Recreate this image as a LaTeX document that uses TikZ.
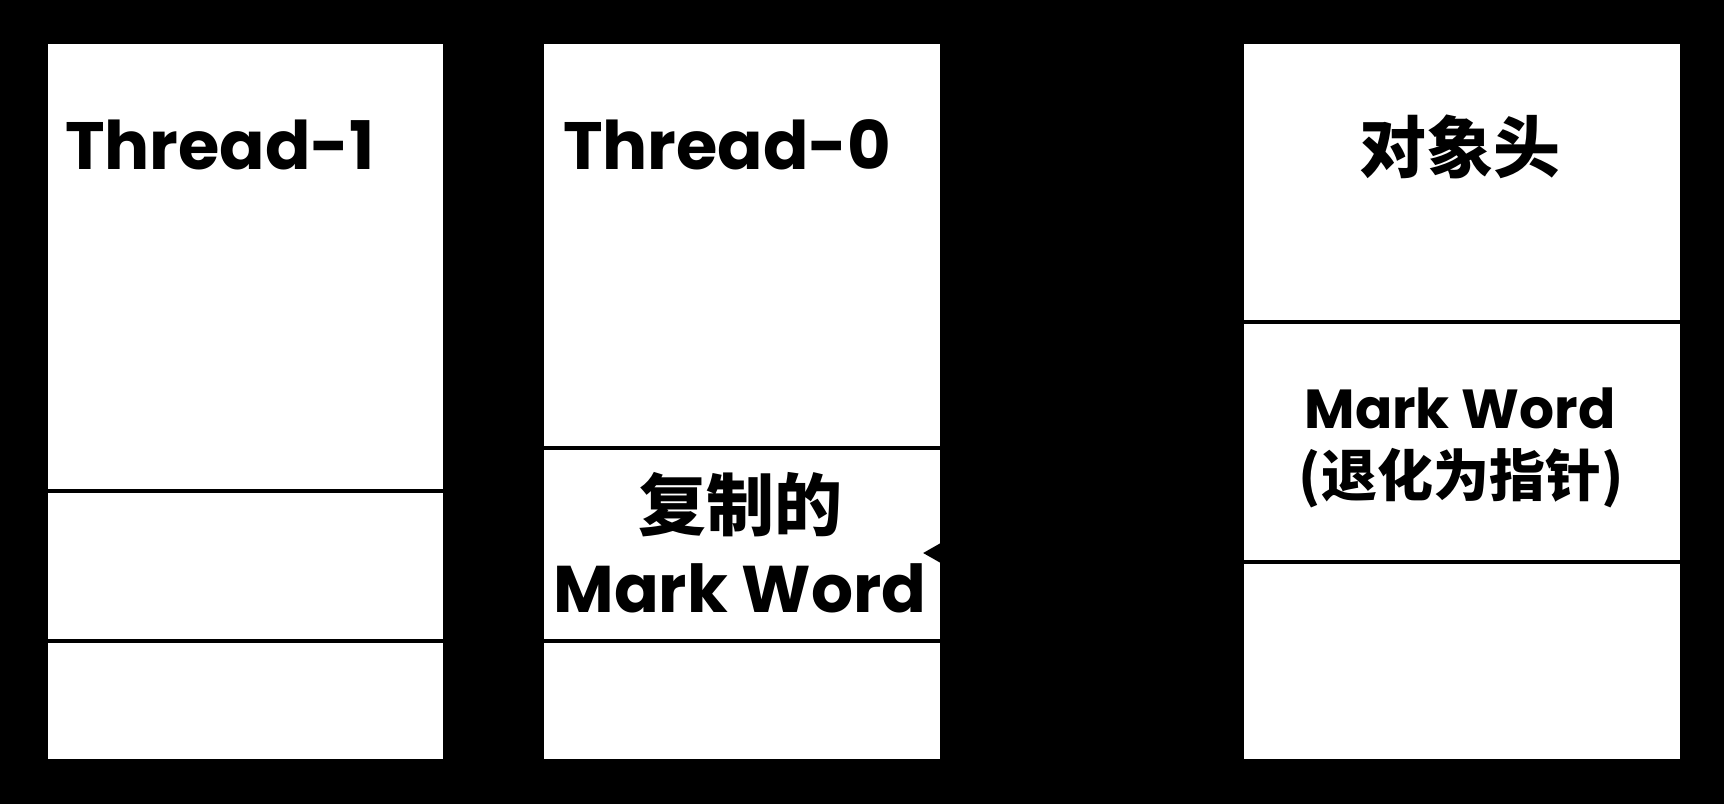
\documentclass[tikz,border=0pt]{standalone}
\usepackage{fontspec}
\setmainfont{Poppins}
\newfontfamily\cjk{Noto Sans CJK SC}
\usetikzlibrary{arrows.meta}
\tikzset{
  cell/.style={draw=black, fill=white, line width=4pt, anchor=north west, inner sep=0pt, outer sep=0pt},
  lat/.style={inner sep=0pt, font=\fontsize{67}{77}\selectfont\bfseries},
  han/.style={inner sep=0pt, font=\fontsize{67}{77}\selectfont\cjk\bfseries},
  arr/.style={draw=black, line width=4pt, -{Triangle[length=24pt,width=26pt]}}
}
\begin{document}
\begin{tikzpicture}[x=1pt, y=-1pt]
\fill[black] (0,0) rectangle (1724,804);
\useasboundingbox (0,0) rectangle (1724,804);
% Thread-1 stack
\node[cell, minimum width=399pt, minimum height=449pt] (a1) at (46,42) {};
\node[cell, minimum width=399pt, minimum height=150pt] (a2) at (46,491) {};
\node[cell, minimum width=399pt, minimum height=120pt] (a3) at (46,641) {};
% Thread-0 stack
\node[cell, minimum width=400pt, minimum height=405.5pt] (b1) at (542,42) {};
\node[cell, minimum width=400pt, minimum height=193.5pt] (b2) at (542,447.5) {};
\node[cell, minimum width=400pt, minimum height=120pt] (b3) at (542,641) {};
% object header
\node[cell, minimum width=440pt, minimum height=280pt] (c1) at (1242,42) {};
\node[cell, minimum width=440pt, minimum height=240pt] (c2) at (1242,322) {};
\node[cell, minimum width=440pt, minimum height=199pt] (c3) at (1242,562) {};
% texts
\node[lat, anchor=base west] (t1) at (65,169) {Thread-1};
\node[lat, anchor=base west] (t0) at (563,169) {Thread-0};
\node[han] (oh) at (1460,147) {对象头};
\node[han, font=\fontsize{68}{78}\selectfont\cjk\bfseries] (cp) at (740,505) {复制的};
\node[lat, anchor=base, font=\fontsize{66}{76}\selectfont\bfseries] (mw1) at (740,612) {Mark Word};
\node[lat, anchor=base, font=\fontsize{55}{65}\selectfont\bfseries] (mw2) at (1460,428) {Mark Word};
\node[han, font=\fontsize{56}{66}\selectfont\cjk\bfseries] (pt) at (1461,478) {(退化为指针)};
% pointer
\coordinate (tip) at (923,553);
\draw[arr] (c2.west |- tip) -- (tip);
\end{tikzpicture}
\end{document}
